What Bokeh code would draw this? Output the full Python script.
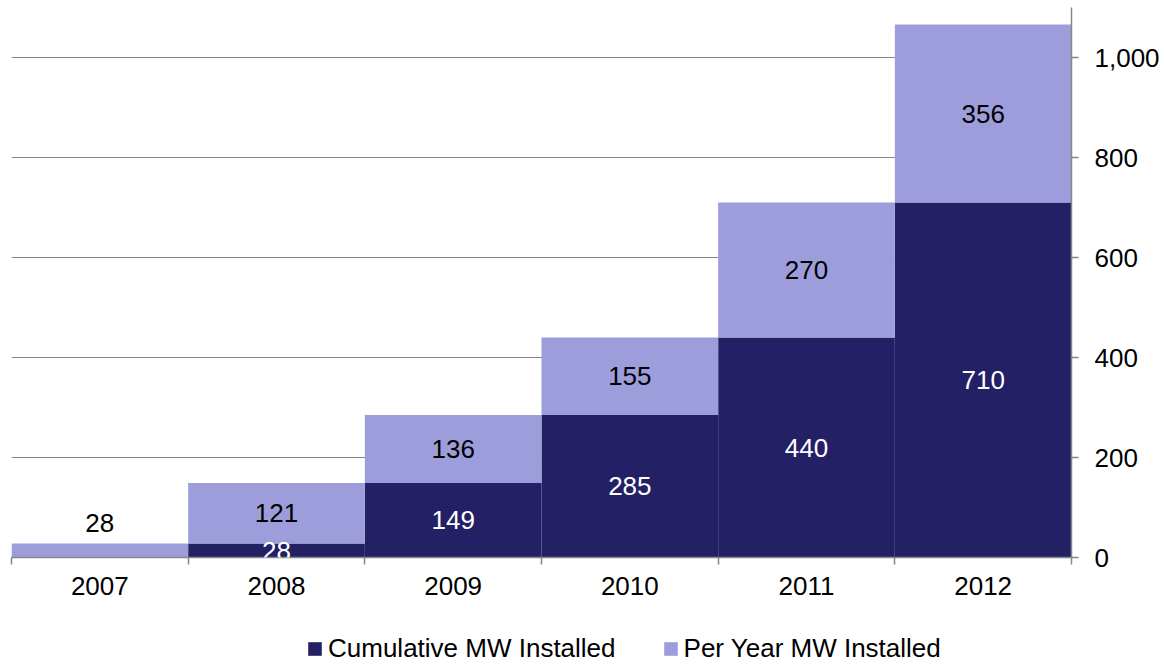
from bokeh.plotting import figure
from bokeh.layouts import column
from bokeh.models import (ColumnDataSource, Range1d, FixedTicker, NumeralTickFormatter,
                          LabelSet, Legend, LegendItem)
from bokeh.core.properties import value
from bokeh.embed import file_html
from bokeh.resources import INLINE

# ---- data ----
years = ["2007", "2008", "2009", "2010", "2011", "2012"]
cumulative = [0, 28, 149, 285, 440, 710]
per_year = [28, 121, 136, 155, 270, 356]
y_ticks = [0, 200, 400, 600, 800, 1000]
series_names = ["Cumulative MW Installed", "Per Year MW Installed"]

DARK = "#232066"
LIGHT = "#9e9ddc"
GRAY = "#868686"
FONT = "Liberation Sans"
FS = "26px"

idx = list(range(len(years)))
src = ColumnDataSource(dict(
    x=idx, year=years, cumulative=cumulative, per_year=per_year,
    cum_lab=[str(v) if v > 0 else "" for v in cumulative],
    cum_y=[v / 2 for v in cumulative],
    per_lab=[str(v) for v in per_year],
    per_y=[c + p / 2 for c, p in zip(cumulative, per_year)],
    per_off=[28 if p < 60 else 0 for p in per_year],
))

p = figure(frame_width=1060, frame_height=550,
           x_range=Range1d(-0.5, len(years) - 0.5),
           y_range=Range1d(0, 1100),
           y_axis_location="right",
           output_backend="svg", toolbar_location=None,
           min_border_left=11, min_border_top=7, min_border_right=70,
           min_border_bottom=52)
p.outline_line_color = None
p.background_fill_color = "white"
p.border_fill_color = "white"

p.vbar_stack(["cumulative", "per_year"], x="x", width=1.0, source=src,
             color=[DARK, LIGHT], line_color=None)

# x axis
xa = p.xaxis[0]
xa.ticker = FixedTicker(ticks=idx, minor_ticks=[i - 0.5 for i in range(len(years) + 1)])
xa.major_label_overrides = {i: y for i, y in zip(idx, years)}
xa.major_tick_line_color = None
xa.major_tick_out = 7
xa.major_tick_in = 0
xa.minor_tick_line_color = GRAY
xa.minor_tick_line_width = 1.5
xa.minor_tick_out = 7
xa.minor_tick_in = 0
xa.axis_line_color = GRAY
xa.axis_line_width = 1.5
xa.major_label_text_font = FONT
xa.major_label_text_font_size = FS
xa.major_label_text_color = "black"
xa.major_label_standoff = 12

# y axis
ya = p.yaxis[0]
ya.ticker = FixedTicker(ticks=y_ticks)
ya.formatter = NumeralTickFormatter(format="0,0")
ya.axis_line_color = GRAY
ya.axis_line_width = 1.5
ya.major_tick_line_color = GRAY
ya.major_tick_line_width = 1.5
ya.major_tick_out = 7
ya.major_tick_in = 0
ya.minor_tick_line_color = None
ya.major_label_text_font = FONT
ya.major_label_text_font_size = FS
ya.major_label_text_color = "black"
ya.major_label_standoff = 16

p.xgrid.grid_line_color = None
p.ygrid.ticker = FixedTicker(ticks=y_ticks)
p.ygrid.grid_line_color = GRAY
p.ygrid.grid_line_width = 1

# data labels
p.add_layout(LabelSet(x="x", y="cum_y", text="cum_lab", source=src,
                      text_align="center", text_baseline="middle",
                      text_color="white", text_font=value(FONT), text_font_size=value(FS)))
p.add_layout(LabelSet(x="x", y="per_y", text="per_lab", source=src, y_offset="per_off",
                      text_align="center", text_baseline="middle",
                      text_color="black", text_font=value(FONT), text_font_size=value(FS)))

# legend strip (separate small figure below the chart)
lg = figure(frame_width=1060, frame_height=55,
            x_range=Range1d(0, 1), y_range=Range1d(0, 1),
            output_backend="svg", toolbar_location=None,
            min_border_left=11, min_border_top=0, min_border_right=70,
            min_border_bottom=0)
lg.axis.visible = False
lg.grid.visible = False
lg.outline_line_color = None
lg.border_fill_color = "white"
dummy = ColumnDataSource(dict(x=[-10], top=[0]))
rd = lg.vbar(x="x", top="top", width=0.1, source=dummy, color=DARK, line_color=None)
rl = lg.vbar(x="x", top="top", width=0.1, source=dummy, color=LIGHT, line_color=None)
legend = Legend(items=[LegendItem(label=series_names[0], renderers=[rd]),
                       LegendItem(label=series_names[1], renderers=[rl])],
                orientation="horizontal", location=(295, 0),
                glyph_width=17, glyph_height=17, label_standoff=5, spacing=46,
                padding=0, margin=0, border_line_color=None, background_fill_alpha=0,
                label_text_font=FONT, label_text_font_size=FS, label_text_color="black")
lg.add_layout(legend, "center")

layout = column(p, lg, spacing=0)
open("out.html", "w").write(file_html(layout, INLINE))
